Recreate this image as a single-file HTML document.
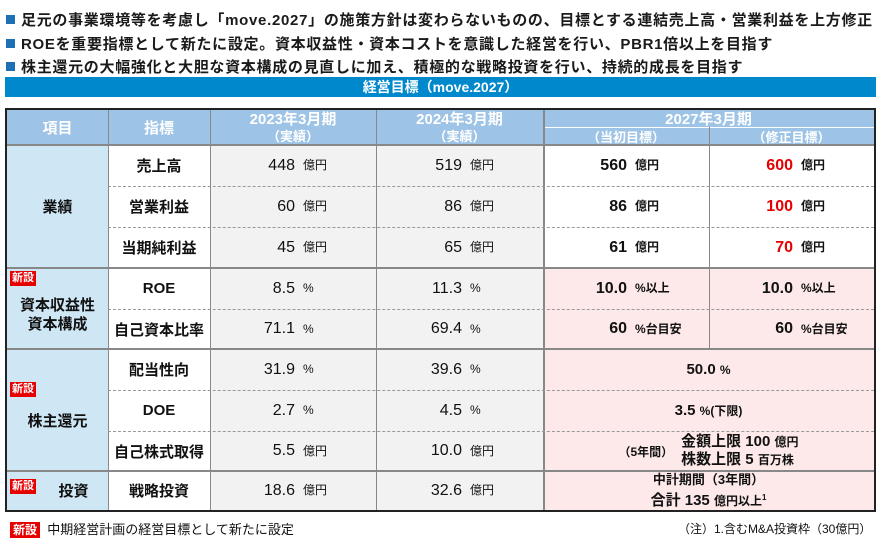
<!DOCTYPE html>
<html><head><meta charset="utf-8">
<style>
body{margin:0;width:880px;height:546px;background:#fff;position:relative;overflow:hidden;font-family:"Liberation Sans","Noto Sans CJK JP",sans-serif;color:#111}
.a{position:absolute}
.bul{position:absolute;left:6px;font-size:15px;font-weight:bold;white-space:nowrap;color:#1a1a1a;letter-spacing:0.7px}
.bul i{display:inline-block;width:9px;height:9px;background:#1f6fb5;margin-right:6px;vertical-align:1px}
.c{position:absolute;box-sizing:border-box;display:flex;align-items:center;justify-content:center;text-align:center;font-size:15px;font-weight:bold}
.h{background:#9dc3e6;color:#fff;font-weight:bold}
.cat{background:#cfe7f5}
.g{background:#f2f2f2;font-weight:normal}
.p{background:#fde9e9}
.n{position:absolute;font-size:16px;white-space:nowrap}
.u{font-size:12px}
.new{background:#e60000;color:#fff;font-size:11px;font-weight:bold;padding:0 2px;line-height:15px}
.hl{position:absolute;height:0;border-top:1px dashed #999}
.hs{position:absolute;height:0;border-top:2px solid #888}
.vl{position:absolute;width:0;border-left:1px solid #888}
</style></head><body>
<div class="bul" style="top:9px"><i></i>足元の事業環境等を考慮し「move.2027」の施策方針は変わらないものの、目標とする連結売上高・営業利益を上方修正</div>
<div class="bul" style="top:33px"><i></i>ROEを重要指標として新たに設定。資本収益性・資本コストを意識した経営を行い、PBR1倍以上を目指す</div>
<div class="bul" style="top:56px"><i></i>株主還元の大幅強化と大胆な資本構成の見直しに加え、積極的な戦略投資を行い、持続的成長を目指す</div>
<div class="c" style="left:5px;top:77px;width:871px;height:20px;background:#0088cc;color:#fff;font-size:14px">経営目標（move.2027）</div>

<div class="a" style="left:5px;top:108px;width:871px;height:404px;border:2px solid #222;box-sizing:border-box"></div>
<div class="c h" style="left:7px;top:110px;width:101px;height:35px">項目</div>
<div class="c h" style="left:108px;top:110px;width:102px;height:35px">指標</div>
<div class="c h" style="left:210px;top:110px;width:166px;height:35px;flex-direction:column;line-height:17px;font-size:15px">2023年3月期<span style="font-size:13px">（実績）</span></div>
<div class="c h" style="left:376px;top:110px;width:167px;height:35px;flex-direction:column;line-height:17px;font-size:15px">2024年3月期<span style="font-size:13px">（実績）</span></div>
<div class="c h" style="left:543px;top:110px;width:331px;height:17px">2027年3月期</div>
<div class="c h" style="left:543px;top:128px;width:166px;height:17px;font-size:13px">（当初目標）</div>
<div class="c h" style="left:709px;top:128px;width:165px;height:17px;font-size:13px">（修正目標）</div>
<div class="a" style="left:543px;top:127px;width:331px;border-top:1px solid #fff"></div>

<div class="c cat" style="left:7px;top:145px;width:101px;height:123px">業績</div>
<div class="c cat" style="left:7px;top:268px;width:101px;height:81px;flex-direction:column;line-height:19px"><span class="new a" style="left:3px;top:3px">新設</span><span style="margin-top:12px">資本収益性</span>資本構成</div>
<div class="c cat" style="left:7px;top:349px;width:101px;height:122px"><span class="new a" style="left:3px;top:33px">新設</span><span style="margin-top:20px">株主還元</span></div>
<div class="c cat" style="left:7px;top:471px;width:101px;height:39px"><span class="new a" style="left:3px;top:8px">新設</span><span style="margin-left:32px">投資</span></div>

<div class="a g" style="left:210px;top:145px;width:333px;height:365px"></div>
<div class="a p" style="left:543px;top:268px;width:331px;height:242px"></div>

<div id="rows"></div>

<div class="c" style="left:543px;top:349px;width:331px;height:41px">50.0&nbsp;<span class="u">%</span></div>
<div class="c" style="left:543px;top:390px;width:331px;height:41px">3.5&nbsp;<span class="u">%(下限)</span></div>
<div class="c" style="left:543px;top:431px;width:331px;height:40px"><span style="font-size:12px;margin-right:8px">（5年間）</span><span style="line-height:18px;text-align:left">金額上限&nbsp;100&nbsp;<span class="u">億円</span><br>株数上限&nbsp;5&nbsp;<span class="u">百万株</span></span></div>
<div class="c" style="left:543px;top:471px;width:331px;height:39px;flex-direction:column;line-height:18px"><span style="font-size:13px">中計期間（3年間）</span><span>合計&nbsp;135&nbsp;<span class="u">億円以上<sup style="font-size:8px">1</sup></span></span></div>

<div class="vl" style="left:108px;top:110px;height:400px"></div>
<div class="vl" style="left:210px;top:110px;height:400px"></div>
<div class="vl" style="left:376px;top:110px;height:400px"></div>
<div class="vl" style="left:543px;top:110px;height:400px;border-left-width:2px"></div>
<div class="vl" style="left:709px;top:127px;height:222px"></div>
<div class="hs" style="left:7px;top:144px;width:867px"></div>
<div class="hl" style="left:108px;top:186px;width:766px"></div>
<div class="hl" style="left:108px;top:227px;width:766px"></div>
<div class="hs" style="left:7px;top:267px;width:867px"></div>
<div class="hl" style="left:108px;top:309px;width:766px"></div>
<div class="hs" style="left:7px;top:348px;width:867px"></div>
<div class="hl" style="left:108px;top:390px;width:766px"></div>
<div class="hl" style="left:108px;top:431px;width:766px"></div>
<div class="hs" style="left:7px;top:470px;width:867px"></div>

<div class="a" style="left:10px;top:519px;font-size:13px;white-space:nowrap"><span class="new" style="font-size:12px;padding:1px 3px">新設</span>&nbsp;&nbsp;中期経営計画の経営目標として新たに設定</div>
<div class="a" style="left:678px;top:520px;font-size:12px;white-space:nowrap">（注）1.含むM&amp;A投資枠（30億円）</div>

<script>
const metrics=["売上高","営業利益","当期純利益","ROE","自己資本比率","配当性向","DOE","自己株式取得","戦略投資"];
const v2023=["448","60","45","8.5","71.1","31.9","2.7","5.5","18.6"];
const v2024=["519","86","65","11.3","69.4","39.6","4.5","10.0","32.6"];
const units=["億円","億円","億円","%","%","%","%","億円","億円"];
const vInit=["560","86","61","10.0","60"];
const vRev=["600","100","70","10.0","60"];
const uTarget=["億円","億円","億円","%以上","%台目安"];
const rowTops=[145,186,227,268,309,349,390,431,471];
const rowH=[41,41,41,41,40,41,41,40,39];
const root=document.getElementById('rows');
function num(x,y,h,val,unit,bold,color,name){
  const d=document.createElement('div');
  
  
  d.className='n';
  d.style.left=(x-70)+'px';d.style.top=y+'px';d.style.height=h+'px';d.style.lineHeight=h+'px';
  d.style.width='70px';d.style.textAlign='right';
  d.style.fontWeight=bold?'bold':'normal';
  if(color)d.style.color=color;
  d.textContent=val;
  root.appendChild(d);
  const u=document.createElement('div');
  
  
  u.className='n u';
  u.style.left=(x+8)+'px';u.style.top=y+'px';u.style.height=h+'px';u.style.lineHeight=h+'px';
  u.style.fontWeight=bold?'bold':'normal';
  u.textContent=unit;
  root.appendChild(u);
}
metrics.forEach((m,i)=>{
  const c=document.createElement('div');
  
  
  c.className='c';
  c.style.left='108px';c.style.top=rowTops[i]+'px';c.style.width='102px';c.style.height=rowH[i]+'px';
  c.textContent=m;
  root.appendChild(c);
  num(295,rowTops[i],rowH[i],v2023[i],units[i],false,null,'v2023-'+i);
  num(462,rowTops[i],rowH[i],v2024[i],units[i],false,null,'v2024-'+i);
  if(i<5){
    num(627,rowTops[i],rowH[i],vInit[i],uTarget[i],true,null,'initial-'+i);
    num(793,rowTops[i],rowH[i],vRev[i],uTarget[i],true,i<3?'#e60000':null,'revised-'+i);
  }
});
</script>
</body></html>
